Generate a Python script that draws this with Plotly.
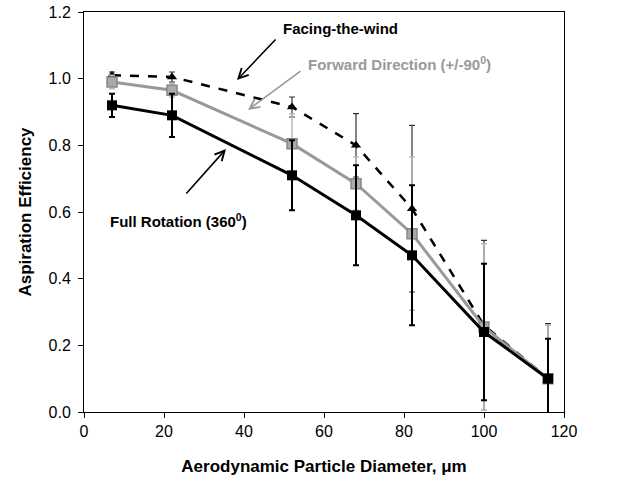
import plotly.graph_objects as go

diameter = [7, 22, 52, 68, 82, 100, 116]

full_rotation = [0.92, 0.89, 0.71, 0.59, 0.47, 0.24, 0.10]
full_err = [0.035, 0.065, 0.105, 0.15, 0.21, 0.205, 0.12]

forward_dir = [0.99, 0.965, 0.805, 0.685, 0.535, 0.255, 0.10]
forward_err = [0.02, 0.02, 0.09, 0.08, 0.23, 0.25, 0.16]

facing_wind = [1.01, 1.005, 0.915, 0.80, 0.61, 0.26, 0.10]
facing_err = [0.01, 0.015, 0.03, 0.095, 0.25, 0.255, 0.165]

font = "Liberation Sans, Arial, sans-serif"

fig = go.Figure()

fig.add_trace(go.Scatter(
    x=diameter, y=facing_wind, mode="lines+markers", name="Facing-the-wind",
    line=dict(color="black", width=2.5, dash="dash"),
    marker=dict(symbol="triangle-up", size=9, color="black"),
    error_y=dict(type="data", array=facing_err, color="#333333", thickness=1.2, width=3),
))
fig.add_trace(go.Scatter(
    x=diameter, y=forward_dir, mode="lines+markers", name="Forward Direction",
    line=dict(color="#999999", width=3),
    marker=dict(symbol="square", size=10, color="#aaaaaa", line=dict(color="#888888", width=1.5)),
    error_y=dict(type="data", array=forward_err, color="#bbbbbb", thickness=1.5, width=3),
))
fig.add_trace(go.Scatter(
    x=diameter, y=full_rotation, mode="lines+markers", name="Full Rotation",
    line=dict(color="black", width=3),
    marker=dict(symbol="square", size=10, color="black"),
    error_y=dict(type="data", array=full_err, color="black", thickness=2, width=3),
))


def pix_to_data(px, py):
    # pixel position in the 640x481 picture -> data coords
    x = (px - 84) / (564 - 84) * 120
    y = (412 - py) / (412 - 12) * 1.2
    return x, y


def arrow(tail, head, color):
    tx, ty = pix_to_data(*tail)
    hx, hy = pix_to_data(*head)
    fig.add_annotation(
        x=hx, y=hy, ax=tx, ay=ty, xref="x", yref="y", axref="x", ayref="y",
        text="", showarrow=True, arrowhead=5,
        arrowsize=1.2, arrowwidth=1.6, arrowcolor=color,
    )


arrow((277, 38), (237, 80), "black")
arrow((302, 70), (248, 110), "#999999")
arrow((185, 195), (226, 149), "black")

for txt, pos, color in [
    ("Facing-the-wind", (281, 28), "black"),
    ("Forward Direction (+/-90<sup>0</sup>)", (306, 63), "#999999"),
    ("Full Rotation (360<sup>0</sup>)", (108, 220), "black"),
]:
    x, y = pix_to_data(*pos)
    fig.add_annotation(
        x=x, y=y, xref="x", yref="y", text="<b>" + txt + "</b>", showarrow=False,
        xanchor="left", yanchor="middle", font=dict(family=font, size=15, color=color),
    )

fig.update_layout(
    width=640, height=481,
    margin=dict(l=84, r=76, t=12, b=69),
    paper_bgcolor="white", plot_bgcolor="white",
    showlegend=False,
    font=dict(family=font, color="black"),
)
fig.update_xaxes(
    range=[0, 120], dtick=20, tickformat="d", automargin=False,
    showgrid=False, zeroline=False,
    showline=True, linecolor="black", linewidth=1, mirror=True,
    ticks="outside", ticklen=5, tickcolor="black",
    tickfont=dict(size=16, family=font),
    title=dict(text="<b>Aerodynamic Particle Diameter, μm</b>", font=dict(size=17, family=font), standoff=20),
)
fig.update_yaxes(
    range=[0, 1.2], dtick=0.2, tickformat=".1f", automargin=False,
    showgrid=False, zeroline=False,
    showline=True, linecolor="black", linewidth=1, mirror=True,
    ticks="outside", ticklen=5, tickcolor="black", ticklabelstandoff=4,
    tickfont=dict(size=16, family=font),
    title=dict(text="<b>Aspiration Efficiency</b>", font=dict(size=17, family=font), standoff=12),
)

# drop the browser's default 8px body margin so the figure sits at 0,0
fig.write_html(
    "out.html",
    config={"displayModeBar": False},
    post_script="document.body.style.margin='0';document.body.style.overflow='hidden';",
)
